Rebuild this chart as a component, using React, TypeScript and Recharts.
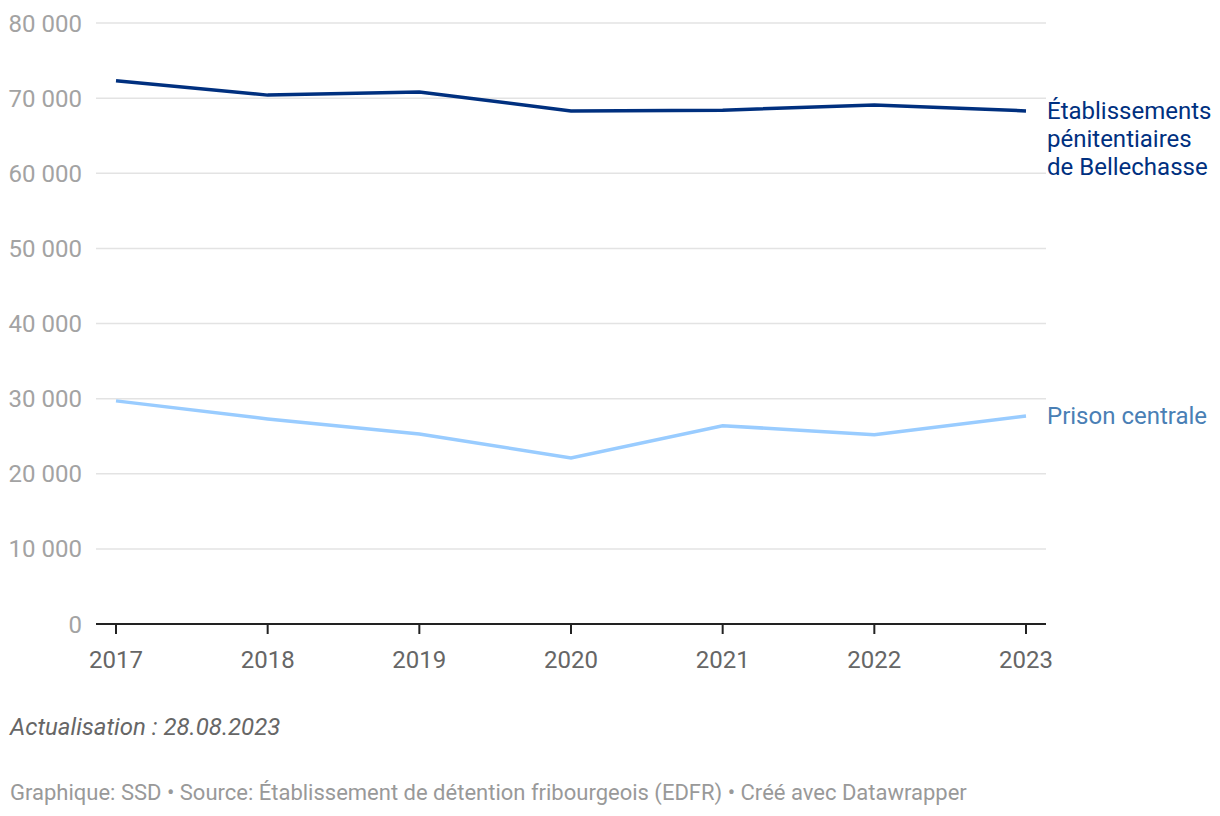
import React from 'react';
import { LineChart, Line, XAxis, YAxis, CartesianGrid } from 'recharts';

const years = ['2017', '2018', '2019', '2020', '2021', '2022', '2023'];
const bellechasse = [72300, 70400, 70800, 68300, 68400, 69100, 68300];
const prisonCentrale = [29700, 27300, 25300, 22100, 26400, 25200, 27700];
const yTicks = [0, 10000, 20000, 30000, 40000, 50000, 60000, 70000, 80000];

const data = years.map((year, i) => ({
  year,
  bellechasse: bellechasse[i],
  prison: prisonCentrale[i],
}));

const FONT = 'Roboto, sans-serif';
const DARK = '#00307f';
const LIGHT = '#99ccff';

const fmt = (v: number) => (v === 0 ? '0' : v.toLocaleString('en-US').replace(/,/g, ' '));

const endLabel = (lines: string[], color: string) => (props: any) => {
  const { x, y, index } = props;
  if (index !== years.length - 1) return null;
  const lh = 28;
  const start = lines.length > 1 ? y : y;
  return (
    <text x={x + 21} y={start} fill={color} fontSize={24} fontFamily={FONT} dominantBaseline="central">
      {lines.map((l, i) => (
        <tspan key={i} x={x + 21} y={start + i * lh}>
          {l}
        </tspan>
      ))}
    </text>
  );
};

export default function App() {
  return (
    <div style={{ position: 'absolute', left: 0, top: 0, width: 1220, height: 816, background: '#fff', fontFamily: FONT }}>
      <LineChart width={1220} height={690} data={data} margin={{ top: 23, right: 174, left: 0, bottom: 16 }}>
        <CartesianGrid horizontal vertical={false} stroke="#e3e3e3" strokeWidth={1.5} />
        <XAxis
          dataKey="year"
          padding={{ left: 20, right: 20 }}
          axisLine={{ stroke: '#222', strokeWidth: 2 }}
          tickLine={{ stroke: '#222', strokeWidth: 2 }}
          tickSize={10}
          tickMargin={17}
          height={50}
          tick={{ fill: '#666', fontSize: 24, fontFamily: FONT }}
          interval={0}
        />
        <YAxis
          domain={[0, 80000]}
          ticks={yTicks}
          tickFormatter={fmt}
          axisLine={false}
          tickLine={false}
          width={96}
          tickMargin={8}
          tick={{ fill: '#a3a3a3', fontSize: 24, fontFamily: FONT }}
        />
        <Line
          type="linear"
          dataKey="bellechasse"
          stroke={DARK}
          strokeWidth={3.5}
          dot={false}
          isAnimationActive={false}
          label={endLabel(['Établissements', 'pénitentiaires', 'de Bellechasse'], DARK)}
        />
        <Line
          type="linear"
          dataKey="prison"
          stroke={LIGHT}
          strokeWidth={3.5}
          dot={false}
          isAnimationActive={false}
          label={endLabel(['Prison centrale'], '#4a7fb5')}
        />
      </LineChart>
      <div style={{ position: 'absolute', left: 10, top: 713, fontSize: 24, fontStyle: 'italic', color: '#666' }}>
        Actualisation : 28.08.2023
      </div>
      <div style={{ position: 'absolute', left: 10, top: 780, fontSize: 22, color: '#999' }}>
        Graphique: SSD • Source: Établissement de détention fribourgeois (EDFR) • Créé avec Datawrapper
      </div>
    </div>
  );
}
